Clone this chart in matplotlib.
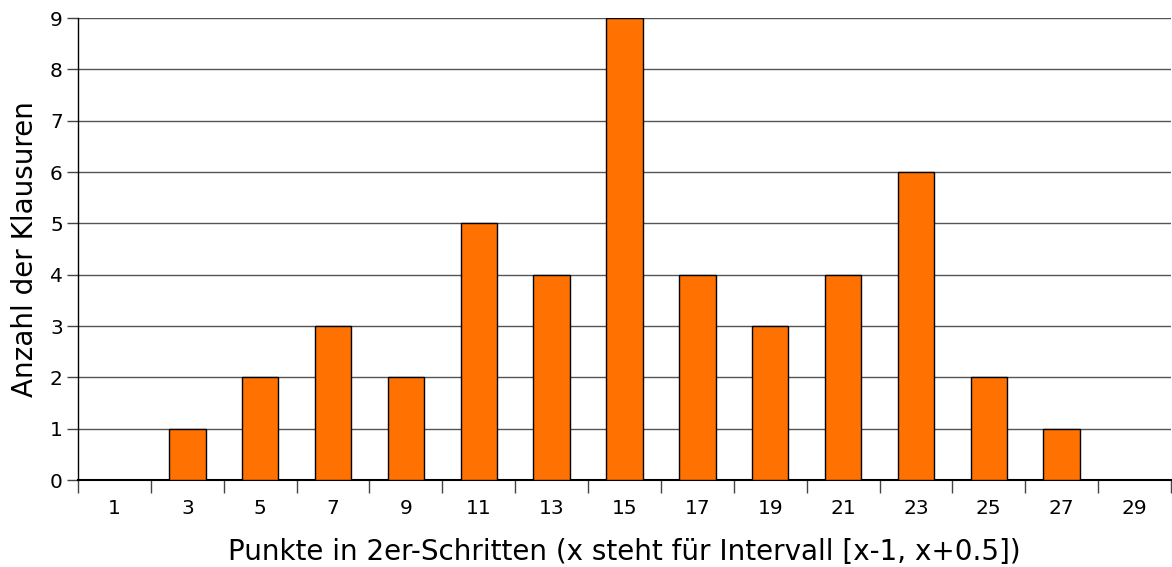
import numpy as np
import matplotlib
matplotlib.use("Agg")
from matplotlib import pyplot as plt
from matplotlib.ticker import FixedLocator, NullFormatter

# Punkte-Klassen und Anzahl der Klausuren
categories = ["1", "3", "5", "7", "9", "11", "13", "15", "17", "19", "21", "23", "25", "27", "29"]
counts = [0, 1, 2, 3, 2, 5, 4, 9, 4, 3, 4, 6, 2, 1, 0]
y_ticks = list(range(0, 10))

BAR_COLOR = "#ff7100"

fig = plt.figure(figsize=(11.72, 5.67), dpi=100)
ax = fig.add_axes([0.0666, 0.1534, 0.9325, 0.8148])

x = np.arange(len(categories))
ax.bar(x, counts, width=0.5, color=BAR_COLOR, edgecolor="black", linewidth=1, zorder=3)

ax.set_xlim(-0.5, len(categories) - 0.5)
ax.set_ylim(0, 9)
ax.set_yticks(y_ticks)
ax.yaxis.grid(True, color="#555555", linewidth=1, zorder=0)
ax.set_axisbelow(True)

# labels in the middle of the categories, tick marks on the boundaries
ax.set_xticks(x)
ax.set_xticklabels(categories)
ax.tick_params(axis="x", which="major", length=0, pad=14, labelsize=14.5)
ax.xaxis.set_minor_locator(FixedLocator(np.arange(-0.5, len(categories), 1.0)))
ax.xaxis.set_minor_formatter(NullFormatter())
ax.tick_params(axis="x", which="minor", length=9, width=1, color="#444444")
ax.tick_params(axis="y", length=8, width=1, color="#444444", labelsize=14.5, pad=3)

ax.spines["top"].set_visible(False)
ax.spines["right"].set_visible(False)
ax.spines["left"].set_linewidth(1)
ax.spines["bottom"].set_linewidth(1.5)

ax.set_xlabel("Punkte in 2er-Schritten (x steht für Intervall [x-1, x+0.5])", fontsize=20, labelpad=14)
ax.set_ylabel("Anzahl der Klausuren", fontsize=20, labelpad=8)

fig.savefig("out.png", dpi=100)
